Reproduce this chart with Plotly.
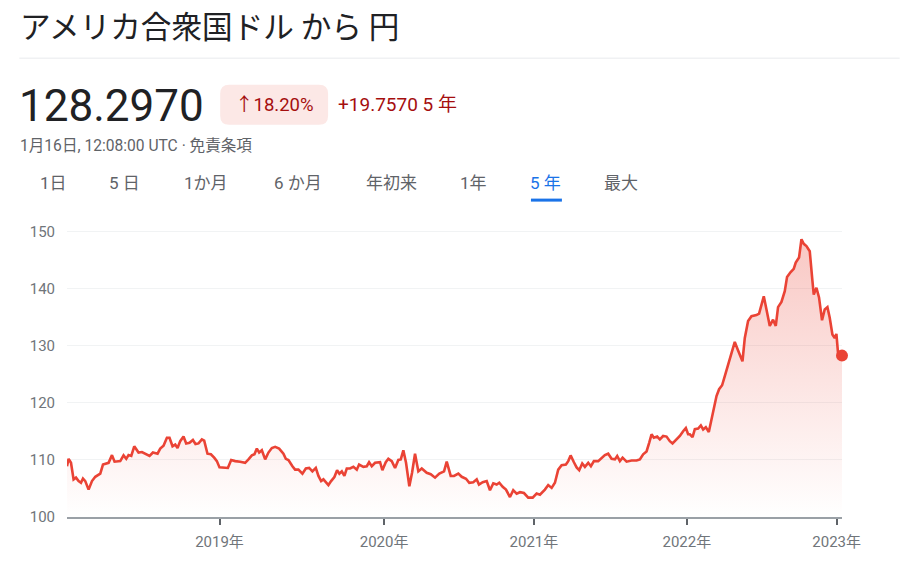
import plotly.graph_objects as go

# ---- data (week index within the 5-year window, USD/JPY rate) ----
weeks = [0.0, 0.54, 1.34, 2.21, 3.02, 3.89, 4.69, 5.36, 6.13, 7.24, 8.38, 9.49, 11.16, 12.07, 13.95,
         15.09, 15.96, 17.87, 18.97, 19.88, 20.65, 21.56, 22.56, 24.0, 25.14, 26.25, 27.69, 28.83,
         30.37, 31.28, 32.38, 33.52, 34.39, 35.4, 36.31, 37.08, 37.98, 39.09, 39.99, 41.1, 42.24,
         43.11, 44.12, 45.26, 46.03, 47.13, 48.27, 49.38, 50.28, 51.16, 53.07,
         53.97, 55.08, 56.42, 58.1, 59.77, 60.88, 62.02, 62.89, 63.69, 64.47, 65.37, 66.48, 67.58,
         68.72, 69.83, 71.17, 72.61, 73.41, 74.29, 75.63, 76.53, 77.64, 78.98, 80.12, 81.23, 82.33,
         83.47, 84.35, 85.25, 86.02, 86.92, 87.7, 88.6, 89.71, 90.61, 91.38, 92.19, 93.06, 93.86,
         94.97, 96.08, 97.22, 97.99, 99.43, 100.57, 101.34, 102.25, 103.35, 105.03, 105.8, 106.94,
         107.81,
         108.95, 110.06, 111.16, 111.97, 112.84, 113.74, 114.85, 115.76, 116.76, 117.87, 119.01,
         120.68, 122.03, 123.47, 124.91, 126.49, 127.39, 128.73, 129.84, 131.28, 132.42, 133.86,
         134.96, 136.3, 137.45, 138.22, 139.46, 140.8, 141.9, 143.01, 144.15, 145.02, 146.16, 147.27,
         148.61, 149.71, 150.85, 151.96, 153.3, 154.74, 156.22, 157.56, 158.66,
         160.33, 161.44, 162.59, 163.69, 164.8, 165.94, 167.38, 168.15, 168.96, 170.06, 170.97,
         171.84, 172.85, 173.75, 174.86, 175.76, 176.77, 178.21, 179.35, 180.45, 181.56, 182.7,
         183.81, 184.58, 185.48, 186.39, 187.73, 189.41, 191.08, 192.19, 193.29, 194.43, 195.31,
         196.11, 196.88, 197.99, 198.89, 200.0, 201.14, 202.24, 203.15, 204.49, 205.6, 206.7,
         207.61, 208.38,
         208.95, 209.86, 210.63, 211.73, 212.64, 213.41, 214.31, 215.32, 216.22, 217.0, 217.9,
         218.77, 219.78, 220.68, 221.79, 222.93, 224.03, 225.14, 226.61, 227.39, 228.49, 229.63,
         231.31, 232.18, 232.98, 233.76, 234.66, 235.77, 236.87, 237.78, 238.55, 239.69, 240.8,
         241.57, 242.71, 243.81, 244.48, 245.59, 246.4, 247.17, 248.07, 249.18, 250.08, 250.52,
         251.42, 252.29, 253.3, 254.2, 255.11, 255.88, 256.78, 257.55, 258.12, 258.66, 260.0]

rates = [108.9, 110.2, 109.5, 106.6, 106.9, 106.3, 106.0, 106.75, 106.3, 104.8, 106.3, 107.05, 107.6,
         109.2, 109.5, 110.85, 109.7, 109.8, 110.8, 110.2, 110.85, 110.7, 112.4, 111.3, 111.4, 111.1,
         110.7, 111.3, 111.1, 112.0, 112.5, 113.9, 113.9, 112.4, 112.7, 112.1, 113.3, 114.1, 112.9,
         113.0, 113.5, 112.8, 112.9, 113.6, 113.4, 111.1, 111.0, 110.4, 109.8, 108.7, 108.7,
         108.6, 110.0, 109.8, 109.7, 109.5, 110.1, 110.8, 111.0, 112.0, 111.3, 111.7, 110.1, 111.3,
         112.1, 112.3, 112.0, 111.1, 110.2, 110.0, 108.9, 108.3, 108.3, 107.6, 108.5, 108.6, 108.0,
         108.6, 107.2, 106.3, 106.6, 106.0, 105.6, 106.3, 107.0, 108.2, 107.6, 108.0, 107.2, 108.5,
         108.5, 108.8, 108.3, 109.2, 108.8, 108.9, 109.6, 108.9, 109.5, 109.6, 108.2, 109.6, 110.2,
         109.8, 108.6, 110.0, 110.1, 111.7, 109.5, 105.4, 107.75, 111.1, 108.0, 108.5, 107.75,
         107.5, 106.9, 107.6, 108.0, 109.7, 107.2, 107.2, 107.6, 107.05, 106.7, 106.0, 106.1, 106.6,
         105.7, 106.1, 106.3, 104.7, 105.9, 105.7, 106.0, 105.3, 104.8, 103.5, 104.7, 104.1, 104.35,
         104.2, 103.4, 103.4, 104.1, 103.9,
         104.8, 105.6, 105.1, 106.0, 108.3, 109.1, 109.2, 109.8, 110.8, 109.6, 108.7, 108.2, 109.4,
         108.8, 109.5, 108.9, 109.8, 109.8, 110.3, 110.85, 111.1, 110.2, 110.1, 110.7, 109.8, 110.4,
         109.7, 109.9, 109.9, 110.1, 111.0, 111.5, 113.0, 114.5, 113.9, 114.1, 113.6, 114.2, 114.1,
         113.3, 112.9, 113.6, 114.2, 115.05, 115.6, 114.5,
         114.5, 114.0, 115.4, 115.5, 116.05, 115.35, 115.75, 114.9, 117.1, 118.6, 121.2, 122.4,
         123.1, 124.7, 126.75, 129.1, 130.7, 129.2, 127.3, 131.4, 134.35, 135.2, 135.4, 135.65,
         137.3, 138.7, 136.4, 133.5, 134.6, 133.5, 136.8, 137.7, 139.6, 142.1, 142.9, 143.5, 144.6,
         145.5, 148.7, 147.9, 147.5, 146.6, 141.4, 139.0, 140.2, 138.5, 134.5, 136.4, 136.8, 134.95,
         132.0, 131.4, 132.1, 128.8, 128.297]

year_ticks = [51.16, 106.37, 156.65, 207.94, 258.22]
year_labels = ["2019年", "2020年", "2021年", "2022年", "2023年"]
y_ticks = [100, 110, 120, 130, 140, 150]

tabs = ["1日", "5 日", "1か月", "6 か月", "年初来", "1年", "5 年", "最大"]
tab_centers = [53, 124.5, 205.5, 297.5, 391, 473.5, 546, 621]
active_tab = 6

title = "アメリカ合衆国ドル から 円"
price = "128.2970"
pct = "↑18.20%"
change = "+19.7570 5 年"
stamp = "1月16日, 12:08:00 UTC · 免責条項"

# ---- layout geometry (pixels) ----
W, H = 900, 571
L, R, T, B = 66.7, 842.3, 229.4, 517.5
PW, PH = R - L, B - T


def px(x):
    return (x - L) / PW


def py(y):
    return (B - y) / PH


RED = "#ea4335"
DARK_RED = "#a50e0e"
GRAY = "#70757a"
FONT = "Roboto, 'Noto Sans CJK JP', sans-serif"
CJK = "'Noto Sans CJK JP', Roboto, sans-serif"

fig = go.Figure()
fig.add_trace(go.Scatter(
    x=weeks, y=rates, mode="lines",
    line=dict(color=RED, width=2.6),
    fill="tozeroy",
    fillgradient=dict(type="vertical", start=100, stop=150,
                      colorscale=[[0, "rgba(234,67,53,0.0)"], [1, "rgba(234,67,53,0.30)"]]),
    hoverinfo="skip", showlegend=False,
))
fig.add_trace(go.Scatter(
    x=[weeks[-1]], y=[rates[-1]], mode="markers",
    marker=dict(color=RED, size=12), cliponaxis=False,
    hoverinfo="skip", showlegend=False,
))

annotations = []


def text(x, y, s, size, color, family=FONT, xanchor="left"):
    annotations.append(dict(x=px(x), y=py(y), xref="paper", yref="paper", text=s,
                            showarrow=False, xanchor=xanchor, yanchor="middle",
                            font=dict(size=size, color=color, family=family)))


text(18, 25, title, 30.6, "#202124", CJK)
text(17, 106, price, 44, "#202124")
text(274.5, 105, pct, 18.5, DARK_RED, xanchor="center")
text(336, 105, change, 19, DARK_RED)
text(18, 146, stamp, 15.6, "#5f6368")
for i, (t, c) in enumerate(zip(tabs, tab_centers)):
    text(c, 183, t, 17, "#1a73e8" if i == active_tab else "#5f6368", xanchor="center")


def rrect(x0, y0, x1, y1, r):
    pts = [("M", x0 + r, y0), ("L", x1 - r, y0), ("Q", x1, y0, x1, y0 + r), ("L", x1, y1 - r),
           ("Q", x1, y1, x1 - r, y1), ("L", x0 + r, y1), ("Q", x0, y1, x0, y1 - r),
           ("L", x0, y0 + r), ("Q", x0, y0, x0 + r, y0)]
    out = []
    for p in pts:
        cmd, coords = p[0], p[1:]
        pairs = [f"{px(coords[k]):.5f},{py(coords[k + 1]):.5f}" for k in range(0, len(coords), 2)]
        out.append(cmd + " " + " ".join(pairs))
    return " ".join(out) + " Z"


shapes = [
    dict(type="line", xref="paper", yref="paper", x0=px(19), x1=px(900), y0=py(58.5), y1=py(58.5),
         line=dict(color="#e8eaed", width=1)),
    dict(type="path", xref="paper", yref="paper", path=rrect(220, 85, 328, 125, 9),
         fillcolor="#fce8e6", line=dict(width=0), layer="below"),
    dict(type="rect", xref="paper", yref="paper", x0=px(531), x1=px(562), y0=py(202), y1=py(199),
         fillcolor="#1a73e8", line=dict(width=0)),
]

fig.update_layout(
    width=W, height=H,
    margin=dict(l=L, r=W - R, t=T, b=H - B, pad=0),
    paper_bgcolor="white", plot_bgcolor="white",
    font=dict(family=FONT, color=GRAY, size=15),
    annotations=annotations, shapes=shapes,
    xaxis=dict(range=[0, 260], tickvals=year_ticks, ticktext=year_labels,
               showgrid=False, zeroline=False, showline=True, linecolor="#9aa0a6", linewidth=1.5,
               ticks="outside", ticklen=6, tickwidth=2, tickcolor="#5f6368",
               tickfont=dict(size=15, color=GRAY), ticklabelstandoff=4, fixedrange=True),
    yaxis=dict(range=[100, 150.5], tickvals=y_ticks, showgrid=True, gridcolor="#f1f3f4",
               gridwidth=1, zeroline=False, showline=False, ticks="",
               tickfont=dict(size=15, color=GRAY), ticklabelstandoff=11, fixedrange=True),
)

fig.write_html("out.html")
